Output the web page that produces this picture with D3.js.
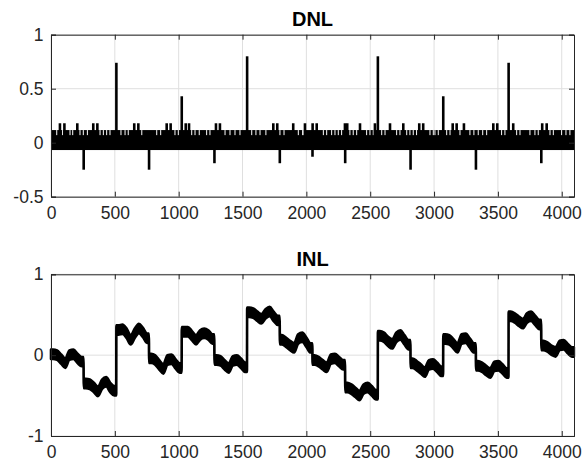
<!DOCTYPE html>
<html>
<head>
<meta charset="utf-8">
<script src="https://cdn.jsdelivr.net/npm/d3@7"></script>
<style>
  body { margin: 0; background: #fff; }
  svg { display: block; font-family: "Liberation Sans", Arial, sans-serif; }
</style>
</head>
<body>
<div id="chart"></div>
<script>
// ---- data ----
const codeCount = 4096;
const xTicks = [0, 500, 1000, 1500, 2000, 2500, 3000, 3500, 4000];
const dnlTicks = [-0.5, 0, 0.5, 1];
const inlTicks = [-1, 0, 1];

// dense DNL oscillation, seen as a solid band
const dnlBandLow = -0.068;
const dnlBandHigh = 0.117;
const dnlGapLow = 0.07;

// big spikes at the major code transitions
const dnlSpikeCodes = [256, 512, 768, 1024, 1280, 1536, 1792, 2048, 2304, 2560, 2816, 3072, 3328, 3584, 3840];
const dnlSpikeValues = [-0.25, 0.74, -0.25, 0.43, -0.19, 0.80, -0.19, -0.13, -0.19, 0.80, -0.25, 0.43, -0.25, 0.74, -0.19];

// small codes that reach ~0.18
const dnlBumpValue = 0.18;
const dnlBumpCodes = [70, 105, 206, 331, 363, 652, 684, 906, 937, 1055, 1081, 1292, 1323, 1741, 1772, 1897,
  1989, 2049, 2081, 2302, 2320, 2420, 2537, 2655, 2759, 2884, 2915, 3146, 3177, 3234, 3464, 3495, 3620, 3847, 3882];

// codes where the band top dips (thin white slivers)
const dnlGapCodes = [45, 91, 149, 170, 227, 253, 285, 384, 410, 436, 462, 548, 580, 605, 711, 828, 859,
  971, 997, 1102, 1128, 1161, 1219, 1245, 1363, 1402, 1441, 1480, 1572, 1605, 1637, 1683, 1793, 1825, 1937, 1971,
  1976, 2133, 2159, 2198, 2224, 2250, 2276, 2341, 2367, 2394, 2472, 2498, 2524, 2590, 2616, 2707, 2733, 2786,
  2811, 2837, 2863, 2968, 2994, 3007, 3033, 3099, 3125, 3203, 3281, 3312, 3346, 3381, 3412, 3529, 3555, 3647,
  3673, 3751, 3790, 3816, 3908, 3934, 3999, 4033, 4064];

// INL, one value every 32 codes (centre of each block), 8 per 256-code segment
const inlValues = [
  0.01, 0.00, -0.05, -0.10, 0.00, 0.01, -0.04, -0.08,
  -0.35, -0.36, -0.40, -0.45, -0.36, -0.33, -0.40, -0.44,
  0.31, 0.32, 0.27, 0.19, 0.27, 0.33, 0.28, 0.21,
  -0.04, -0.06, -0.12, -0.17, -0.06, -0.05, -0.11, -0.16,
  0.29, 0.29, 0.24, 0.19, 0.25, 0.27, 0.25, 0.20,
  -0.06, -0.07, -0.12, -0.16, -0.07, -0.06, -0.10, -0.15,
  0.53, 0.52, 0.48, 0.45, 0.51, 0.54, 0.48, 0.43,
  0.19, 0.16, 0.12, 0.09, 0.20, 0.22, 0.16, 0.09,
  -0.06, -0.08, -0.12, -0.15, -0.05, -0.04, -0.08, -0.12,
  -0.40, -0.42, -0.46, -0.50, -0.42, -0.40, -0.44, -0.49,
  0.24, 0.22, 0.17, 0.14, 0.22, 0.25, 0.19, 0.13,
  -0.10, -0.13, -0.17, -0.21, -0.12, -0.11, -0.15, -0.20,
  0.20, 0.19, 0.14, 0.09, 0.20, 0.21, 0.15, 0.09,
  -0.13, -0.15, -0.19, -0.22, -0.14, -0.13, -0.17, -0.22,
  0.48, 0.46, 0.42, 0.39, 0.46, 0.48, 0.43, 0.38,
  0.12, 0.10, 0.06, 0.04, 0.12, 0.13, 0.08, 0.04
];
const inlRipple = 0.058; // half height of the fast ripple around the INL curve

// ---- layout ----
const width = 583;
const height = 473;
const plotLeft = 51;
const plotRight = 574;
const dnlBox = { top: 34.7, bottom: 196.7 };
const inlBox = { top: 274.3, bottom: 436 };
const axisColor = '#262626';
const gridColor = '#dfdfdf';
const lineWidth = 2.6;

const svg = d3.select('#chart')
  .append('svg')
  .attr('width', width)
  .attr('height', height);

const x = d3.scaleLinear().domain([0, codeCount]).range([plotLeft, plotRight]);

function drawGrid(y, yTicks, box) {
  const g = svg.append('g');
  g.selectAll('.vg')
    .data(xTicks)
    .join('line')
    .attr('x1', d => x(d)).attr('x2', d => x(d))
    .attr('y1', box.top).attr('y2', box.bottom)
    .attr('stroke', gridColor).attr('stroke-width', 1);
  g.selectAll('.hg')
    .data(yTicks)
    .join('line')
    .attr('x1', plotLeft).attr('x2', plotRight)
    .attr('y1', d => y(d)).attr('y2', d => y(d))
    .attr('stroke', gridColor).attr('stroke-width', 1);
}

function drawFrame(y, yTicks, box, title) {
  const tickLen = 5;
  const fmt = d => String(d);

  const bottom = svg.append('g')
    .attr('transform', `translate(0, ${box.bottom})`)
    .call(d3.axisBottom(x).tickValues(xTicks).tickFormat(fmt).tickSize(-tickLen).tickPadding(9.5));
  const top = svg.append('g')
    .attr('transform', `translate(0, ${box.top})`)
    .call(d3.axisTop(x).tickValues(xTicks).tickFormat('').tickSize(-tickLen));
  const left = svg.append('g')
    .attr('transform', `translate(${plotLeft}, 0)`)
    .call(d3.axisLeft(y).tickValues(yTicks).tickFormat(fmt).tickSize(-tickLen).tickPadding(7.5));
  const right = svg.append('g')
    .attr('transform', `translate(${plotRight}, 0)`)
    .call(d3.axisRight(y).tickValues(yTicks).tickFormat('').tickSize(-tickLen));

  [bottom, top, left, right].forEach(a => {
    a.select('.domain').attr('stroke', axisColor).attr('stroke-width', 1);
    a.selectAll('.tick line').attr('stroke', axisColor).attr('stroke-width', 1);
    a.selectAll('.tick text')
      .attr('fill', axisColor)
      .style('font-size', '17.5px')
      .style('font-family', '"Liberation Sans", Arial, sans-serif');
  });

  svg.append('text')
    .attr('x', (plotLeft + plotRight) / 2)
    .attr('y', box.top - 8.5)
    .attr('text-anchor', 'middle')
    .attr('fill', '#000')
    .style('font-size', '20px')
    .style('font-weight', 'bold')
    .text(title);
}

// ---- DNL ----
const yDnl = d3.scaleLinear().domain([-0.5, 1]).range([dnlBox.bottom, dnlBox.top]);
drawGrid(yDnl, dnlTicks, dnlBox);

const dnlG = svg.append('g');
dnlG.append('rect')
  .attr('x', x(0))
  .attr('width', x(codeCount) - x(0))
  .attr('y', yDnl(dnlBandHigh))
  .attr('height', yDnl(dnlBandLow) - yDnl(dnlBandHigh))
  .attr('fill', '#000');

dnlG.selectAll('.gap')
  .data(dnlGapCodes)
  .join('line')
  .attr('x1', d => x(d)).attr('x2', d => x(d))
  .attr('y1', yDnl(dnlBandHigh)).attr('y2', yDnl(dnlGapLow))
  .attr('stroke', '#fff').attr('stroke-width', 1);

dnlG.selectAll('.bump')
  .data(dnlBumpCodes)
  .join('line')
  .attr('x1', d => x(d)).attr('x2', d => x(d))
  .attr('y1', yDnl(0)).attr('y2', yDnl(dnlBumpValue))
  .attr('stroke', '#000').attr('stroke-width', lineWidth);

dnlG.selectAll('.spike')
  .data(dnlSpikeCodes.map((c, i) => ({ code: c, value: dnlSpikeValues[i] })))
  .join('line')
  .attr('x1', d => x(d.code)).attr('x2', d => x(d.code))
  .attr('y1', yDnl(0)).attr('y2', d => yDnl(d.value))
  .attr('stroke', '#000').attr('stroke-width', lineWidth);

drawFrame(yDnl, dnlTicks, dnlBox, 'DNL');

// ---- INL ----
const yInl = d3.scaleLinear().domain([-1, 1]).range([inlBox.bottom, inlBox.top]);
drawGrid(yInl, inlTicks, inlBox);

const inlPoints = [];
inlValues.forEach((v, i) => {
  const segStart = Math.floor(i / 8) * 256;
  if (i % 8 === 0) inlPoints.push({ code: segStart, value: v });
  inlPoints.push({ code: 16 + 32 * i, value: v });
  if (i % 8 === 7) inlPoints.push({ code: segStart + 255, value: v });
});

const inlArea = d3.area()
  .curve(d3.curveMonotoneX)
  .x(d => x(d.code))
  .y0(d => yInl(d.value - inlRipple))
  .y1(d => yInl(d.value + inlRipple));

svg.append('path')
  .datum(inlPoints)
  .attr('d', inlArea)
  .attr('fill', '#000')
  .attr('stroke', '#000')
  .attr('stroke-width', lineWidth)
  .attr('stroke-linejoin', 'round');

drawFrame(yInl, inlTicks, inlBox, 'INL');
</script>
</body>
</html>
